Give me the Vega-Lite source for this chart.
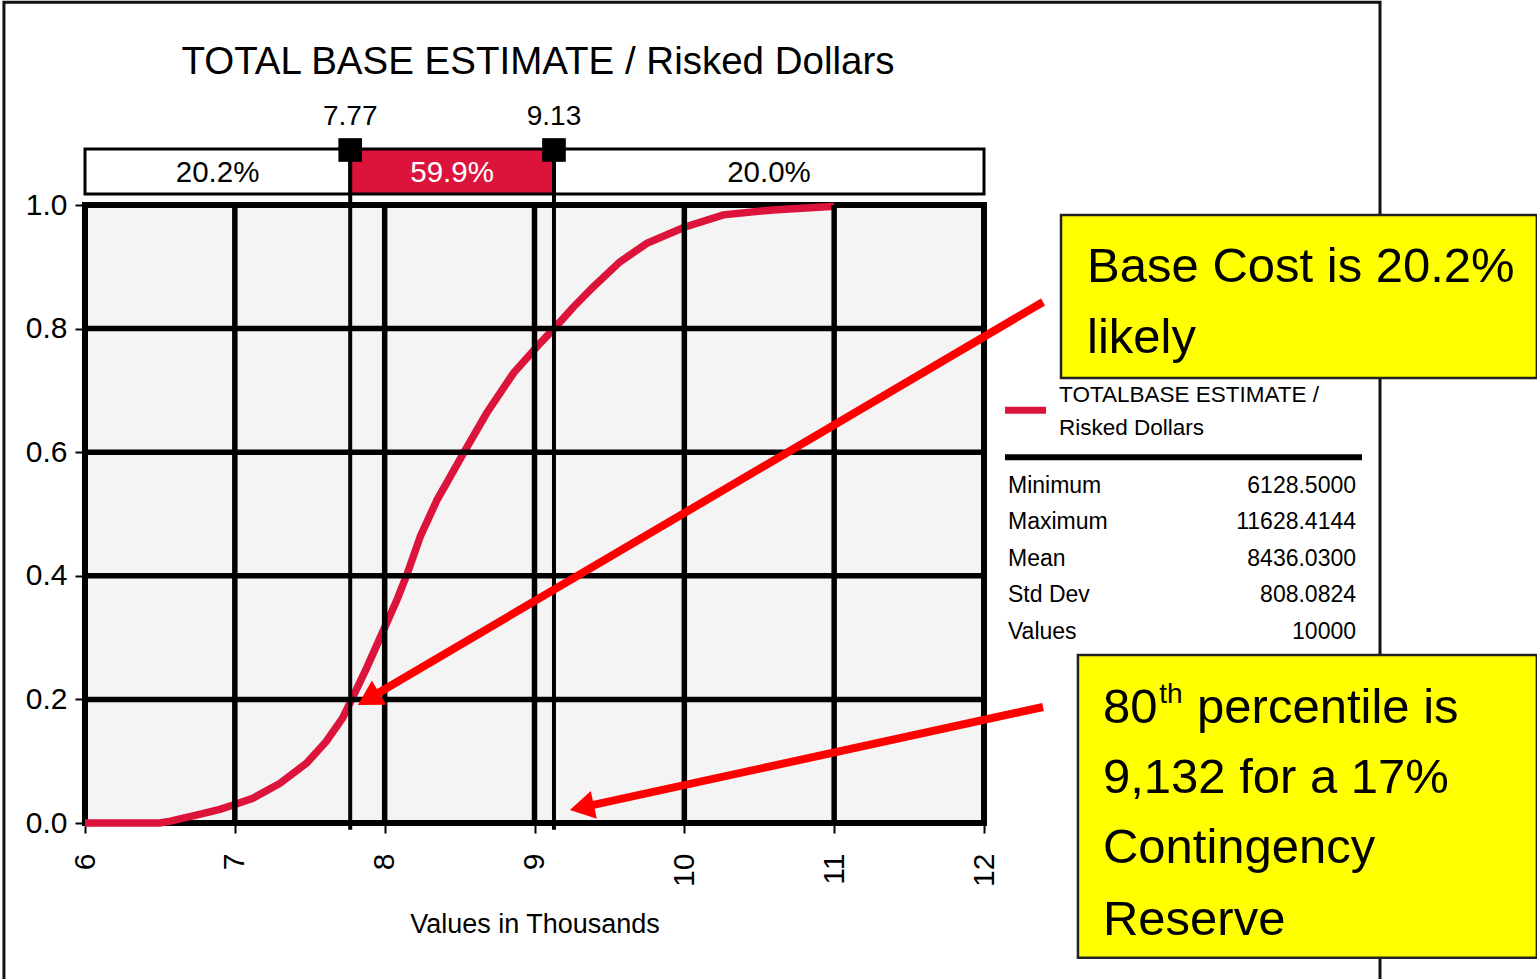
{
  "$schema": "https://vega.github.io/schema/vega-lite/v6.json",
  "width": 899,
  "height": 618,
  "autosize": {"type": "none"},
  "padding": {"left": 85, "top": 205, "right": 553, "bottom": 156},
  "background": "#FFFFFF",
  "config": {
    "view": {"fill": "#F4F4F4", "stroke": "#000000", "strokeWidth": 6},
    "font": "Liberation Sans, Arial, sans-serif",
    "axisX": {
      "grid": false, "domain": false, "tickColor": "#000000", "tickWidth": 2, "tickSize": 10,
      "labelAngle": 270, "labelFontSize": 30, "labelColor": "#000000", "labelPadding": 20,
      "labelFlush": false, "labelOverlap": false,
      "titleFontSize": 27, "titleFontWeight": "normal", "titleColor": "#000000", "titlePadding": 25
    },
    "axisY": {
      "grid": false, "domain": false, "tickColor": "#000000", "tickWidth": 2, "tickSize": 10,
      "labelFontSize": 30, "labelColor": "#000000", "labelPadding": 8
    }
  },
  "layer": [
    {
      "data": {"values": [
        {"v": 6.0, "p": 0}, {"v": 6.5, "p": 0}, {"v": 6.57, "p": 0.003}, {"v": 6.75, "p": 0.013},
        {"v": 6.9, "p": 0.022}, {"v": 7.0, "p": 0.03}, {"v": 7.12, "p": 0.04}, {"v": 7.3, "p": 0.064},
        {"v": 7.48, "p": 0.097}, {"v": 7.61, "p": 0.132}, {"v": 7.72, "p": 0.17}, {"v": 7.78, "p": 0.2},
        {"v": 7.88, "p": 0.251}, {"v": 7.97, "p": 0.3}, {"v": 8.08, "p": 0.36}, {"v": 8.15, "p": 0.403},
        {"v": 8.24, "p": 0.465}, {"v": 8.35, "p": 0.523}, {"v": 8.53, "p": 0.6}, {"v": 8.68, "p": 0.663},
        {"v": 8.86, "p": 0.728}, {"v": 9.04, "p": 0.777}, {"v": 9.13, "p": 0.8}, {"v": 9.26, "p": 0.835},
        {"v": 9.39, "p": 0.867}, {"v": 9.57, "p": 0.908}, {"v": 9.75, "p": 0.938}, {"v": 10.0, "p": 0.964},
        {"v": 10.26, "p": 0.984}, {"v": 10.59, "p": 0.992}, {"v": 10.95, "p": 0.997}, {"v": 11.0, "p": 0.998}
      ]},
      "mark": {"type": "line", "color": "#DC143C", "strokeWidth": 7.5, "clip": false},
      "encoding": {
        "x": {
          "field": "v", "type": "quantitative",
          "scale": {"domain": [6, 12], "nice": false, "zero": false},
          "axis": {"values": [6, 7, 8, 9, 10, 11, 12], "format": "d", "title": "Values in Thousands"}
        },
        "y": {
          "field": "p", "type": "quantitative",
          "scale": {"domain": [0, 1], "nice": false, "zero": false},
          "axis": {"values": [0, 0.2, 0.4, 0.6, 0.8, 1], "format": ".1f", "title": null}
        }
      }
    },
    {
      "data": {"values": [{"left": 5.459, "right": 14.643, "top": 1.328, "bottom": -0.3}]},
      "mark": {"type": "rect", "fillOpacity": 0, "stroke": "#111111", "strokeWidth": 3, "clip": false},
      "encoding": {
        "x": {"field": "left", "type": "quantitative"},
        "x2": {"field": "right"},
        "y": {"field": "top", "type": "quantitative"},
        "y2": {"field": "bottom"}
      }
    },
    {
      "data": {"values": [
        {"from": 6, "to": 7.77, "mid": 6.885, "share": "20.2%", "part": "tail"},
        {"from": 7.77, "to": 9.13, "mid": 8.45, "share": "59.9%", "part": "body"},
        {"from": 9.13, "to": 12, "mid": 10.565, "share": "20.0%", "part": "tail"}
      ]},
      "layer": [
        {
          "mark": {"type": "rect", "stroke": "#000000", "strokeWidth": 3, "clip": false},
          "encoding": {
            "x": {"field": "from", "type": "quantitative"},
            "x2": {"field": "to"},
            "y": {"datum": 1.0906},
            "y2": {"datum": 1.0178},
            "fill": {"field": "part", "type": "nominal", "scale": {"domain": ["tail", "body"], "range": ["#FFFFFF", "#DC143C"]}, "legend": null}
          }
        },
        {
          "mark": {"type": "text", "fontSize": 29.5, "baseline": "middle", "align": "center", "clip": false},
          "encoding": {
            "x": {"field": "mid", "type": "quantitative"},
            "y": {"datum": 1.052},
            "text": {"field": "share"},
            "color": {"field": "part", "type": "nominal", "scale": {"domain": ["tail", "body"], "range": ["#000000", "#FFFFFF"]}, "legend": null}
          }
        }
      ]
    },
    {
      "data": {"values": [{"gx": 7}, {"gx": 8}, {"gx": 9}, {"gx": 10}, {"gx": 11}]},
      "mark": {"type": "rule", "color": "#000000", "strokeWidth": 5.5},
      "encoding": {"x": {"field": "gx", "type": "quantitative"}}
    },
    {
      "data": {"values": [{"gy": 0.2}, {"gy": 0.4}, {"gy": 0.6}, {"gy": 0.8}]},
      "mark": {"type": "rule", "color": "#000000", "strokeWidth": 5.5},
      "encoding": {"y": {"field": "gy", "type": "quantitative"}}
    },
    {
      "data": {"values": [{"pct": 7.77, "lab": "7.77"}, {"pct": 9.13, "lab": "9.13"}]},
      "layer": [
        {
          "mark": {"type": "rule", "color": "#000000", "strokeWidth": 4, "clip": false},
          "encoding": {
            "x": {"field": "pct", "type": "quantitative"},
            "y": {"datum": 1.089},
            "y2": {"datum": -0.011}
          }
        },
        {
          "mark": {"type": "point", "shape": "square", "filled": true, "size": 560, "color": "#000000", "opacity": 1, "clip": false},
          "encoding": {
            "x": {"field": "pct", "type": "quantitative"},
            "y": {"datum": 1.089}
          }
        },
        {
          "mark": {"type": "text", "fontSize": 28, "baseline": "middle", "align": "center", "color": "#000000", "clip": false},
          "encoding": {
            "x": {"field": "pct", "type": "quantitative"},
            "y": {"datum": 1.142},
            "text": {"field": "lab"}
          }
        }
      ]
    },
    {
      "data": {"values": [{"t": "TOTAL BASE ESTIMATE / Risked Dollars"}]},
      "mark": {"type": "text", "fontSize": 38.5, "baseline": "middle", "align": "center", "color": "#000000", "clip": false},
      "encoding": {
        "x": {"datum": 9.023},
        "y": {"datum": 1.232},
        "text": {"field": "t"}
      }
    },
    {
      "data": {"values": [{"k": 1}]},
      "mark": {"type": "rule", "color": "#DC143C", "strokeWidth": 7, "clip": false},
      "encoding": {
        "x": {"datum": 12.14},
        "x2": {"datum": 12.414},
        "y": {"datum": 0.668}
      }
    },
    {
      "data": {"values": [{"k": 1}]},
      "mark": {"type": "rule", "color": "#000000", "strokeWidth": 6, "clip": false},
      "encoding": {
        "x": {"datum": 12.14},
        "x2": {"datum": 14.523},
        "y": {"datum": 0.592}
      }
    },
    {
      "data": {"values": [
        {"ly": 0.6926, "name": "TOTALBASE ESTIMATE /"},
        {"ly": 0.639, "name": "Risked Dollars"}
      ]},
      "mark": {"type": "text", "fontSize": 22.5, "baseline": "middle", "align": "left", "color": "#000000", "clip": false},
      "encoding": {
        "x": {"datum": 12.501},
        "y": {"field": "ly", "type": "quantitative"},
        "text": {"field": "name"}
      }
    },
    {
      "data": {"values": [
        {"sy": 0.545, "stat": "Minimum", "val": "6128.5000"},
        {"sy": 0.487, "stat": "Maximum", "val": "11628.4144"},
        {"sy": 0.427, "stat": "Mean", "val": "8436.0300"},
        {"sy": 0.369, "stat": "Std Dev", "val": "808.0824"},
        {"sy": 0.309, "stat": "Values", "val": "10000"}
      ]},
      "layer": [
        {
          "mark": {"type": "text", "fontSize": 23, "baseline": "middle", "align": "left", "color": "#000000", "clip": false},
          "encoding": {
            "x": {"datum": 12.16},
            "y": {"field": "sy", "type": "quantitative"},
            "text": {"field": "stat"}
          }
        },
        {
          "mark": {"type": "text", "fontSize": 23, "baseline": "middle", "align": "right", "color": "#000000", "clip": false},
          "encoding": {
            "x": {"datum": 14.483},
            "y": {"field": "sy", "type": "quantitative"},
            "text": {"field": "val"}
          }
        }
      ]
    },
    {
      "data": {"values": [
        {"l": 12.514, "r": 15.69, "t": 0.984, "b": 0.72},
        {"l": 12.627, "r": 15.69, "t": 0.272, "b": -0.218}
      ]},
      "mark": {"type": "rect", "fill": "#FFFF00", "stroke": "#222222", "strokeWidth": 2.5, "clip": false},
      "encoding": {
        "x": {"field": "l", "type": "quantitative"},
        "x2": {"field": "r"},
        "y": {"field": "t", "type": "quantitative"},
        "y2": {"field": "b"}
      }
    },
    {
      "data": {"values": [
        {"tx": 12.688, "ty": 0.8754, "line": "Base Cost is 20.2%"},
        {"tx": 12.688, "ty": 0.7605, "line": "likely"},
        {"tx": 12.794, "ty": 0.1618, "line": "80"},
        {"tx": 13.422, "ty": 0.1618, "line": "percentile is"},
        {"tx": 12.794, "ty": 0.0485, "line": "9,132 for a 17%"},
        {"tx": 12.794, "ty": -0.0647, "line": "Contingency"},
        {"tx": 12.794, "ty": -0.1812, "line": "Reserve"}
      ]},
      "mark": {"type": "text", "fontSize": 49, "baseline": "alphabetic", "align": "left", "color": "#000000", "clip": false},
      "encoding": {
        "x": {"field": "tx", "type": "quantitative"},
        "y": {"field": "ty", "type": "quantitative"},
        "text": {"field": "line"}
      }
    },
    {
      "data": {"values": [{"tx": 13.17, "ty": 0.1942, "line": "th"}]},
      "mark": {"type": "text", "fontSize": 28, "baseline": "alphabetic", "align": "left", "color": "#000000", "clip": false},
      "encoding": {
        "x": {"field": "tx", "type": "quantitative"},
        "y": {"field": "ty", "type": "quantitative"},
        "text": {"field": "line"}
      }
    },
    {
      "data": {"values": [
        {"x0": 12.394, "y0": 0.843, "x1": 7.892, "y1": 0.201},
        {"x0": 12.394, "y0": 0.1877, "x1": 9.316, "y1": 0.0252}
      ]},
      "mark": {"type": "rule", "color": "#FF0000", "strokeWidth": 8, "clip": false},
      "encoding": {
        "x": {"field": "x0", "type": "quantitative"},
        "y": {"field": "y0", "type": "quantitative"},
        "x2": {"field": "x1"},
        "y2": {"field": "y1"}
      }
    },
    {
      "data": {"values": [{"hx": 7.892, "hy": 0.201}]},
      "mark": {"type": "point", "shape": "triangle-up", "filled": true, "size": 800, "angle": 239.5, "color": "#FF0000", "opacity": 1, "clip": false},
      "encoding": {
        "x": {"field": "hx", "type": "quantitative"},
        "y": {"field": "hy", "type": "quantitative"}
      }
    },
    {
      "data": {"values": [{"hx": 9.316, "hy": 0.0252}]},
      "mark": {"type": "point", "shape": "triangle-up", "filled": true, "size": 800, "angle": 257.7, "color": "#FF0000", "opacity": 1, "clip": false},
      "encoding": {
        "x": {"field": "hx", "type": "quantitative"},
        "y": {"field": "hy", "type": "quantitative"}
      }
    }
  ]
}
